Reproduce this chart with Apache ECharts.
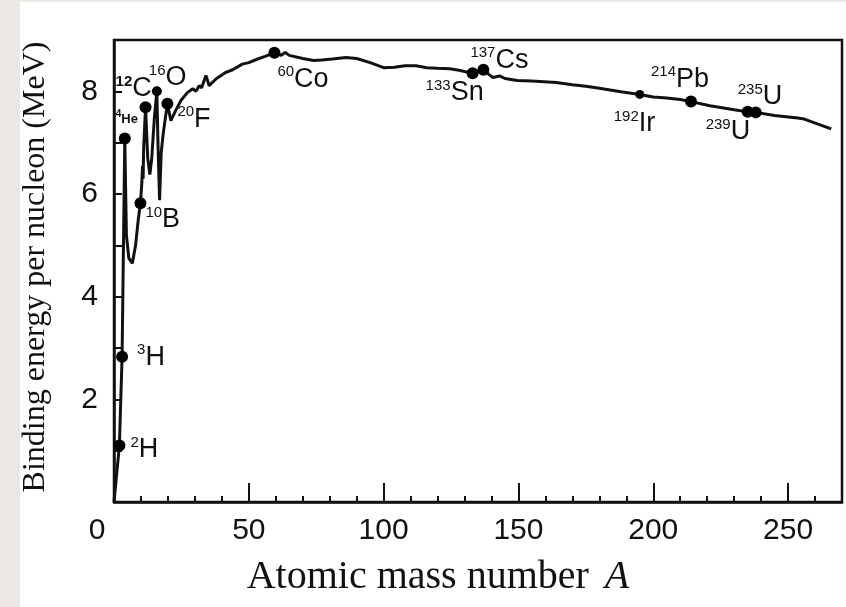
<!DOCTYPE html>
<html>
<head>
<meta charset="utf-8">
<script src="https://cdn.jsdelivr.net/npm/echarts@6/dist/echarts.min.js"></script>
<style>
  html, body { margin: 0; padding: 0; background: #fff; }
  #main { width: 846px; height: 607px; }
</style>
</head>
<body>
<div id="main"></div>
<script>
// binding energy curve (A, MeV per nucleon)
var massNumber = [0, 2, 3, 4, 4.6, 5.5, 6.8, 8, 9, 9.8, 10.3, 10.6, 10.8, 11, 11.7, 12.5, 13.3, 14, 15, 15.9,
  16.3, 16.9, 17.5, 18.3, 19.8, 21.1, 22.9, 24.8, 27.3, 29.2, 30.4, 31.6, 32.5, 34.1, 35.3, 37.8, 41.5, 44,
  47.6, 50, 52.8, 56, 59.5, 61, 62, 63.5, 65, 70, 74, 77, 81, 86, 90, 95, 100, 104, 108, 112, 116, 120,
  124.5, 128, 133, 137, 139, 140.5, 143, 145, 149.5, 155, 164, 170, 175, 180, 188, 195, 197, 200, 205,
  210, 214, 221, 230, 235, 238, 245, 253.6, 256, 266];
var bindingEnergy = [0, 1.1, 2.83, 7.08, 5.2, 4.75, 4.65, 5.0, 5.5, 5.82, 6.2, 6.55, 6.3, 6.9, 7.69, 6.7, 6.38, 6.7, 7.5, 8.0,
  7.0, 5.88, 6.8, 7.2, 7.76, 7.43, 7.63, 7.82, 7.98, 8.05, 8.0, 8.11, 8.07, 8.31, 8.11, 8.24, 8.37, 8.42,
  8.53, 8.56, 8.62, 8.68, 8.75, 8.73, 8.7, 8.76, 8.7, 8.64, 8.6, 8.61, 8.63, 8.66, 8.64, 8.56, 8.46, 8.47, 8.5, 8.5, 8.46, 8.45,
  8.44, 8.41, 8.35, 8.42, 8.33, 8.27, 8.3, 8.25, 8.21, 8.2, 8.17, 8.13, 8.1, 8.06, 7.99, 7.94, 7.92, 7.89, 7.87,
  7.84, 7.8, 7.72, 7.64, 7.6, 7.59, 7.53, 7.48, 7.46, 7.27];

// marked nuclides
var isoName = ['2H', '3H', '4He', '10B', '12C', '16O', '20F', '60Co', '133Sn', '137Cs', '192Ir', '214Pb', '235U', '239U'];
var isoSup = ['2', '3', '4', '10', '12', '16', '20', '60', '133', '137', '192', '214', '235', '239'];
var isoSym = ['H', 'H', 'He', 'B', 'C', 'O', 'F', 'Co', 'Sn', 'Cs', 'Ir', 'Pb', 'U', 'U'];
var isoA = [2, 3, 4, 9.8, 11.7, 15.9, 19.8, 59.5, 133, 137, 195, 214, 238, 235];
var isoBE = [1.1, 2.83, 7.08, 5.82, 7.69, 8.0, 7.76, 8.75, 8.35, 8.42, 7.94, 7.8, 7.59, 7.6];

var xTicks = [0, 50, 100, 150, 200, 250];
var yTicks = [2, 4, 6, 8];

// label placement (px from dot centre) and dot sizes
var labelOffset = {
  '2H': [11, 4], '3H': [15, 0], '4He': [-9, -21], '10B': [5, 16], '12C': [-30, -19], '16O': [-8, -14],
  '20F': [10, 15], '60Co': [3, 26], '133Sn': [-47, 19], '137Cs': [-13, -10], '192Ir': [-26, 29],
  '214Pb': [-40, -23], '235U': [-18, -16], '239U': [-42, 19]
};
var dotSize = { '192Ir': 9, '16O': 10 };
var boldLabel = { '4He': 'small', '12C': 'boldsup' };

var curve = massNumber.map(function (a, i) { return [a, bindingEnergy[i]]; });

var dots = isoName.map(function (n, i) {
  var kind = boldLabel[n];
  var text;
  if (kind === 'small') text = '{ss|' + isoSup[i] + '}{es|' + isoSym[i] + '}';
  else if (kind === 'boldsup') text = '{sb|' + isoSup[i] + '}{e|' + isoSym[i] + '}';
  else text = '{s|' + isoSup[i] + '}{e|' + isoSym[i] + '}';
  return {
    name: n,
    value: [isoA[i], isoBE[i]],
    symbolSize: dotSize[n] || 12,
    label: { formatter: text, offset: labelOffset[n] }
  };
});

var myChart = echarts.init(document.getElementById('main'));

var option = {
  animation: false,
  backgroundColor: '#fff',
  graphic: [
    { type: 'rect', left: 0, top: 0, shape: { width: 20, height: 607 }, style: { fill: '#ebe8e3' }, silent: true },
    { type: 'rect', left: 0, top: 0, shape: { width: 846, height: 2 }, style: { fill: '#ebe8e3' }, silent: true }
  ],
  grid: {
    left: 114, right: 4, top: 40, bottom: 105,
    show: true, borderColor: '#111', borderWidth: 2.5, backgroundColor: 'transparent'
  },
  xAxis: [
    {
      type: 'value', min: 0, max: 270, interval: 10,
      name: '{t|Atomic mass number}{g|}{i|A}',
      nameLocation: 'middle', nameGap: 55,
      nameTextStyle: {
        padding: [0, 80, 0, 0],
        rich: {
          t: { fontFamily: 'Liberation Serif', fontSize: 40, color: '#111' },
          g: { width: 16 },
          i: { fontFamily: 'Liberation Serif', fontSize: 40, fontStyle: 'italic', color: '#111' }
        }
      },
      axisLine: { lineStyle: { color: '#111', width: 2.5 } },
      axisTick: { inside: true, length: 6, lineStyle: { color: '#111', width: 2 } },
      splitLine: { show: false },
      axisLabel: {
        margin: 14,
        fontFamily: 'Liberation Sans', fontSize: 30, color: '#111',
        formatter: function (v) {
          if (v === 0) return '{z|0}';
          return xTicks.indexOf(v) >= 0 ? String(v) : '';
        },
        rich: { z: { fontFamily: 'Liberation Sans', fontSize: 30, color: '#111', padding: [0, 34, 0, 0] } }
      }
    },
    {
      type: 'value', min: 0, max: 270, interval: 50, position: 'bottom',
      axisLine: { show: false },
      axisTick: { inside: true, length: 19, lineStyle: { color: '#111', width: 2 } },
      axisLabel: { show: false },
      splitLine: { show: false }
    }
  ],
  yAxis: {
    type: 'value', min: 0, max: 9, interval: 1,
    name: 'Binding energy per nucleon (MeV)',
    nameLocation: 'middle', nameGap: 62,
    nameTextStyle: { fontFamily: 'Liberation Serif', fontSize: 32, color: '#111', padding: [0, 0, 0, 8] },
    axisLine: { lineStyle: { color: '#111', width: 2.5 } },
    axisTick: { inside: true, length: 8, lineStyle: { color: '#111', width: 2 } },
    splitLine: { show: false },
    axisLabel: {
      margin: 16,
      fontFamily: 'Liberation Sans', fontSize: 30, color: '#111',
      formatter: function (v) { return yTicks.indexOf(v) >= 0 ? String(v) : ''; }
    }
  },
  series: [
    {
      type: 'line',
      data: curve,
      showSymbol: false,
      lineStyle: { color: '#111', width: 3 },
      z: 2
    },
    {
      type: 'scatter',
      data: dots,
      itemStyle: { color: '#000', opacity: 1 },
      z: 3,
      label: {
        show: true,
        position: 'inside',
        align: 'left',
        verticalAlign: 'middle',
        color: '#111',
        rich: {
          s: { fontFamily: 'Liberation Sans', fontSize: 15, color: '#111', verticalAlign: 'top', lineHeight: 28 },
          sb: { fontFamily: 'Liberation Sans', fontSize: 15, fontWeight: 'bold', color: '#111', verticalAlign: 'top', lineHeight: 28 },
          e: { fontFamily: 'Liberation Sans', fontSize: 27, color: '#111', verticalAlign: 'bottom', lineHeight: 28 },
          ss: { fontFamily: 'Liberation Sans', fontSize: 10, fontWeight: 'bold', color: '#111', verticalAlign: 'top', lineHeight: 16 },
          es: { fontFamily: 'Liberation Sans', fontSize: 13, fontWeight: 'bold', color: '#111', verticalAlign: 'bottom', lineHeight: 16 }
        }
      }
    }
  ]
};

myChart.setOption(option);
</script>
</body>
</html>
